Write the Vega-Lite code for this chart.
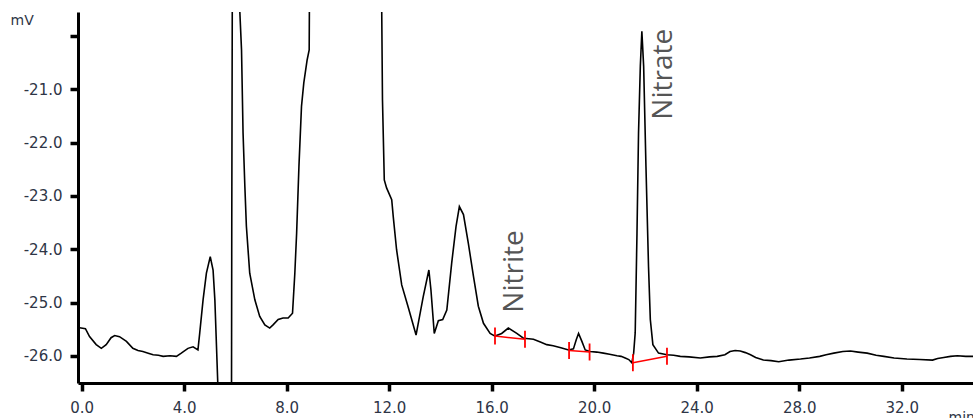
{
  "$schema": "https://vega.github.io/schema/vega-lite/v6.json",
  "description": "Ion chromatogram with nitrite and nitrate peaks",
  "autosize": {"type": "none"},
  "padding": {"left": 78, "top": 12, "right": 0, "bottom": 35},
  "width": 895,
  "height": 371,
  "background": "white",
  "view": {"stroke": null},
  "datasets": {
    "signal": [
      {"t": -0.14, "mV": -25.47}, {"t": 0.15, "mV": -25.49}, {"t": 0.31, "mV": -25.64},
      {"t": 0.57, "mV": -25.79}, {"t": 0.77, "mV": -25.86}, {"t": 0.96, "mV": -25.79},
      {"t": 1.15, "mV": -25.66}, {"t": 1.29, "mV": -25.62}, {"t": 1.48, "mV": -25.64},
      {"t": 1.75, "mV": -25.73}, {"t": 2.0, "mV": -25.86}, {"t": 2.2, "mV": -25.9},
      {"t": 2.39, "mV": -25.92}, {"t": 2.6, "mV": -25.95}, {"t": 2.79, "mV": -25.98},
      {"t": 3.0, "mV": -25.99}, {"t": 3.18, "mV": -26.01}, {"t": 3.45, "mV": -26.0},
      {"t": 3.7, "mV": -26.01}, {"t": 3.89, "mV": -25.95}, {"t": 4.15, "mV": -25.86},
      {"t": 4.35, "mV": -25.83}, {"t": 4.54, "mV": -25.89}, {"t": 4.61, "mV": -25.57},
      {"t": 4.74, "mV": -24.95}, {"t": 4.87, "mV": -24.45}, {"t": 5.02, "mV": -24.14},
      {"t": 5.13, "mV": -24.39}, {"t": 5.2, "mV": -24.95}, {"t": 5.32, "mV": -26.6},
      {"t": 5.4, "mV": -27.5}, {"t": 5.8, "mV": -27.5}, {"t": 5.85, "mV": -26.6},
      {"t": 5.86, "mV": -23.45}, {"t": 5.88, "mV": -19.3}, {"t": 5.9, "mV": -18},
      {"t": 6.1, "mV": -18}, {"t": 6.17, "mV": -19.5}, {"t": 6.24, "mV": -20.26},
      {"t": 6.3, "mV": -21.82}, {"t": 6.37, "mV": -22.82}, {"t": 6.43, "mV": -23.57},
      {"t": 6.56, "mV": -24.45}, {"t": 6.76, "mV": -24.95}, {"t": 6.95, "mV": -25.26},
      {"t": 7.15, "mV": -25.42}, {"t": 7.34, "mV": -25.48}, {"t": 7.47, "mV": -25.42},
      {"t": 7.67, "mV": -25.32}, {"t": 7.86, "mV": -25.29}, {"t": 8.06, "mV": -25.29},
      {"t": 8.23, "mV": -25.2}, {"t": 8.32, "mV": -24.45}, {"t": 8.39, "mV": -23.7},
      {"t": 8.48, "mV": -22.45}, {"t": 8.58, "mV": -21.32}, {"t": 8.67, "mV": -20.88},
      {"t": 8.8, "mV": -20.45}, {"t": 8.88, "mV": -20.26}, {"t": 8.89, "mV": -19.3},
      {"t": 9.0, "mV": -18}, {"t": 11.6, "mV": -18}, {"t": 11.71, "mV": -19.5},
      {"t": 11.74, "mV": -21.2}, {"t": 11.81, "mV": -22.7}, {"t": 11.9, "mV": -22.85},
      {"t": 12.1, "mV": -23.07}, {"t": 12.16, "mV": -23.39}, {"t": 12.29, "mV": -24.01},
      {"t": 12.49, "mV": -24.67}, {"t": 12.75, "mV": -25.1}, {"t": 13.05, "mV": -25.61},
      {"t": 13.33, "mV": -24.89}, {"t": 13.55, "mV": -24.39}, {"t": 13.63, "mV": -24.76},
      {"t": 13.76, "mV": -25.58}, {"t": 13.92, "mV": -25.34}, {"t": 14.09, "mV": -25.32},
      {"t": 14.25, "mV": -25.14}, {"t": 14.44, "mV": -24.26}, {"t": 14.61, "mV": -23.57},
      {"t": 14.74, "mV": -23.2}, {"t": 14.9, "mV": -23.35}, {"t": 15.09, "mV": -23.89},
      {"t": 15.29, "mV": -24.51}, {"t": 15.48, "mV": -25.07}, {"t": 15.68, "mV": -25.39},
      {"t": 15.94, "mV": -25.58}, {"t": 16.13, "mV": -25.63}, {"t": 16.39, "mV": -25.58},
      {"t": 16.65, "mV": -25.48}, {"t": 16.98, "mV": -25.58}, {"t": 17.24, "mV": -25.67},
      {"t": 17.45, "mV": -25.68}, {"t": 17.63, "mV": -25.69}, {"t": 17.9, "mV": -25.74},
      {"t": 18.15, "mV": -25.79}, {"t": 18.4, "mV": -25.81}, {"t": 18.7, "mV": -25.85},
      {"t": 19.0, "mV": -25.89}, {"t": 19.19, "mV": -25.87}, {"t": 19.3, "mV": -25.7},
      {"t": 19.39, "mV": -25.58}, {"t": 19.52, "mV": -25.73}, {"t": 19.65, "mV": -25.89},
      {"t": 19.84, "mV": -25.92}, {"t": 20.1, "mV": -25.93}, {"t": 20.36, "mV": -25.95},
      {"t": 20.6, "mV": -25.97}, {"t": 20.89, "mV": -26.0}, {"t": 21.05, "mV": -26.01},
      {"t": 21.21, "mV": -26.04}, {"t": 21.35, "mV": -26.07}, {"t": 21.47, "mV": -26.13},
      {"t": 21.54, "mV": -25.95}, {"t": 21.6, "mV": -25.57}, {"t": 21.67, "mV": -23.7},
      {"t": 21.73, "mV": -21.82}, {"t": 21.8, "mV": -20.57}, {"t": 21.86, "mV": -19.91},
      {"t": 21.93, "mV": -20.57}, {"t": 22.02, "mV": -22.45}, {"t": 22.12, "mV": -24.33},
      {"t": 22.19, "mV": -25.32}, {"t": 22.29, "mV": -25.79}, {"t": 22.51, "mV": -25.95},
      {"t": 22.84, "mV": -25.98}, {"t": 23.1, "mV": -25.99}, {"t": 23.36, "mV": -26.01},
      {"t": 23.7, "mV": -26.02}, {"t": 24.14, "mV": -26.04}, {"t": 24.5, "mV": -26.02},
      {"t": 24.8, "mV": -26.01}, {"t": 25.1, "mV": -25.98}, {"t": 25.3, "mV": -25.92},
      {"t": 25.5, "mV": -25.9}, {"t": 25.7, "mV": -25.91}, {"t": 25.9, "mV": -25.94},
      {"t": 26.1, "mV": -25.98}, {"t": 26.3, "mV": -26.03}, {"t": 26.6, "mV": -26.08},
      {"t": 26.9, "mV": -26.09}, {"t": 27.2, "mV": -26.11}, {"t": 27.6, "mV": -26.08},
      {"t": 28.05, "mV": -26.06}, {"t": 28.4, "mV": -26.04}, {"t": 28.8, "mV": -26.01},
      {"t": 29.05, "mV": -25.98}, {"t": 29.35, "mV": -25.95}, {"t": 29.7, "mV": -25.92},
      {"t": 30.0, "mV": -25.91}, {"t": 30.3, "mV": -25.93}, {"t": 30.65, "mV": -25.95},
      {"t": 31.0, "mV": -25.99}, {"t": 31.3, "mV": -26.01}, {"t": 31.7, "mV": -26.04},
      {"t": 32.2, "mV": -26.06}, {"t": 32.7, "mV": -26.07}, {"t": 33.2, "mV": -26.08},
      {"t": 33.4, "mV": -26.05}, {"t": 33.64, "mV": -26.03}, {"t": 33.9, "mV": -26.01},
      {"t": 34.17, "mV": -26.0}, {"t": 34.5, "mV": -26.01}, {"t": 34.78, "mV": -26.01}
    ],
    "baselines": [
      {"t1": 16.13, "v1": -25.63, "t2": 17.3, "v2": -25.69},
      {"t1": 19.02, "v1": -25.9, "t2": 19.82, "v2": -25.93},
      {"t1": 21.51, "v1": -26.13, "t2": 22.84, "v2": -26.01}
    ],
    "marks": [
      {"t": 16.13, "v": -25.63}, {"t": 17.3, "v": -25.69},
      {"t": 19.02, "v": -25.9}, {"t": 19.82, "v": -25.93},
      {"t": 21.51, "v": -26.13}, {"t": 22.84, "v": -26.01}
    ],
    "labels": [
      {"t": 17.22, "v": -25.19, "name": "Nitrite"},
      {"t": 23.02, "v": -21.57, "name": "Nitrate"}
    ]
  },
  "encoding": {
    "x": {
      "type": "quantitative",
      "scale": {"domain": [-0.14, 34.78], "nice": false, "zero": false},
      "axis": {
        "title": "min",
        "values": [0, 4, 8, 12, 16, 20, 24, 28, 32],
        "format": ".1f",
        "titleX": 870,
        "titleY": 38,
        "titleAlign": "left",
        "titleBaseline": "alphabetic",
        "titleFont": "DejaVu Sans",
        "titleFontSize": 14,
        "titleFontWeight": "normal",
        "titleColor": "#2e3546",
        "labelPadding": 9
      }
    },
    "y": {
      "type": "quantitative",
      "scale": {"domain": [-26.51, -19.55], "nice": false, "zero": false},
      "axis": {
        "title": "mV",
        "values": [-26, -25, -24, -23, -22, -21, -20],
        "labelExpr": "datum.value == -20 ? '' : '-' + format(abs(datum.value), '.1f')",
        "titleAngle": 0,
        "titleX": -68,
        "titleY": 8,
        "titleAlign": "left",
        "titleBaseline": "middle",
        "titleFont": "DejaVu Sans",
        "titleFontSize": 14,
        "titleFontWeight": "normal",
        "titleColor": "#2e3546",
        "labelPadding": 8
      }
    }
  },
  "layer": [
    {
      "data": {"name": "signal"},
      "mark": {"type": "line", "color": "black", "strokeWidth": 1.6, "clip": true, "interpolate": "linear"},
      "encoding": {
        "x": {"field": "t", "type": "quantitative"},
        "y": {"field": "mV", "type": "quantitative"}
      }
    },
    {
      "data": {"name": "baselines"},
      "mark": {"type": "rule", "color": "#ff0000", "strokeWidth": 1.5},
      "encoding": {
        "x": {"field": "t1", "type": "quantitative"},
        "y": {"field": "v1", "type": "quantitative"},
        "x2": {"field": "t2"},
        "y2": {"field": "v2"}
      }
    },
    {
      "data": {"name": "marks"},
      "mark": {"type": "tick", "color": "#ff0000", "orient": "vertical", "size": 17, "thickness": 1.8, "opacity": 1},
      "encoding": {
        "x": {"field": "t", "type": "quantitative"},
        "y": {"field": "v", "type": "quantitative"}
      }
    },
    {
      "data": {"name": "labels"},
      "mark": {"type": "text", "font": "Open Sans", "fontSize": 28, "color": "#555555", "angle": 270, "align": "left", "baseline": "alphabetic"},
      "encoding": {
        "x": {"field": "t", "type": "quantitative"},
        "y": {"field": "v", "type": "quantitative"},
        "text": {"field": "name"}
      }
    }
  ],
  "config": {
    "axis": {
      "grid": false,
      "domainColor": "black",
      "domainWidth": 3,
      "tickColor": "black",
      "tickWidth": 3.5,
      "tickSize": 8,
      "labelFont": "DejaVu Sans",
      "labelFontSize": 15,
      "labelColor": "#2e3546"
    }
  }
}
